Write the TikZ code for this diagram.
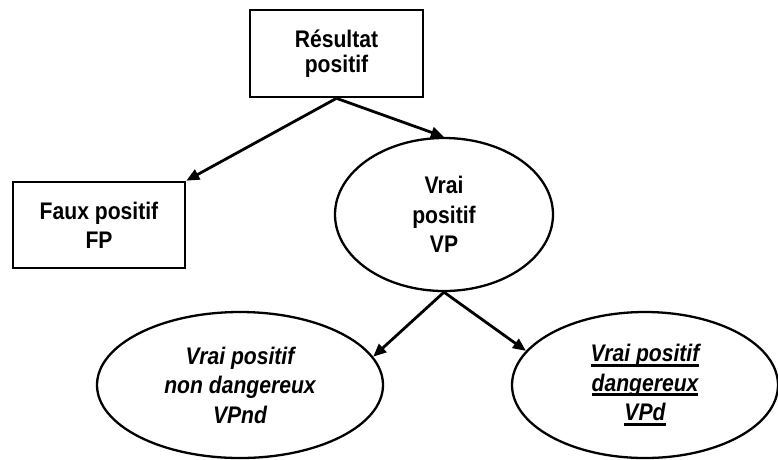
\documentclass[tikz,border=0pt]{standalone}
\usepackage{fontspec}
\setmainfont{Liberation Sans}[FakeStretch=0.88]
\usetikzlibrary{shapes.geometric,arrows.meta}
\newcommand\myul[1]{\setbox0\hbox{#1}\rlap{\rule[-5pt]{\wd0}{3pt}}\box0}
\begin{document}
\begin{tikzpicture}[x=1pt,y=-1pt,
  box/.style={draw, line width=2.6pt, rectangle, align=center, inner sep=0pt,
    font=\bfseries\fontsize{24}{29}\selectfont},
  oval/.style={draw, line width=2.3pt, ellipse, align=center, inner sep=0pt,
    font=\bfseries\fontsize{24}{29.5}\selectfont},
  arr/.style={line width=2.8pt, -{Triangle[length=13pt,width=11pt]}}]
\useasboundingbox (0,0) rectangle (778,459);
\node[box, minimum width=173pt, minimum height=87pt, font=\bfseries\fontsize{24}{25.5}\selectfont] (res) at (336.5,53.5) {Résultat\\positif};
\node[box, minimum width=172pt, minimum height=86pt] (fp) at (99,225) {Faux positif\\FP};
\node[oval, minimum width=218pt, minimum height=153pt] (vp) at (444,214.5) {Vrai\\positif\\VP};
\node[oval, minimum width=286pt, minimum height=146pt, font=\bfseries\itshape\fontsize{24}{29.5}\selectfont] (l) at (240,385) {Vrai positif\\non dangereux\\VPnd};
\node[oval, minimum width=266pt, minimum height=146pt, font=\bfseries\itshape\fontsize{24}{29.5}\selectfont] (r) at (645,385) {\myul{Vrai positif}\\\myul{dangereux}\\\myul{VPd}};
\draw[arr] (res.south) -- (fp.north east);
\draw[arr] (res.south) -- (vp.north);
\draw[arr] (vp.south) -- (l.12);
\draw[arr] (vp.south) -- (r.164);
\end{tikzpicture}
\end{document}
